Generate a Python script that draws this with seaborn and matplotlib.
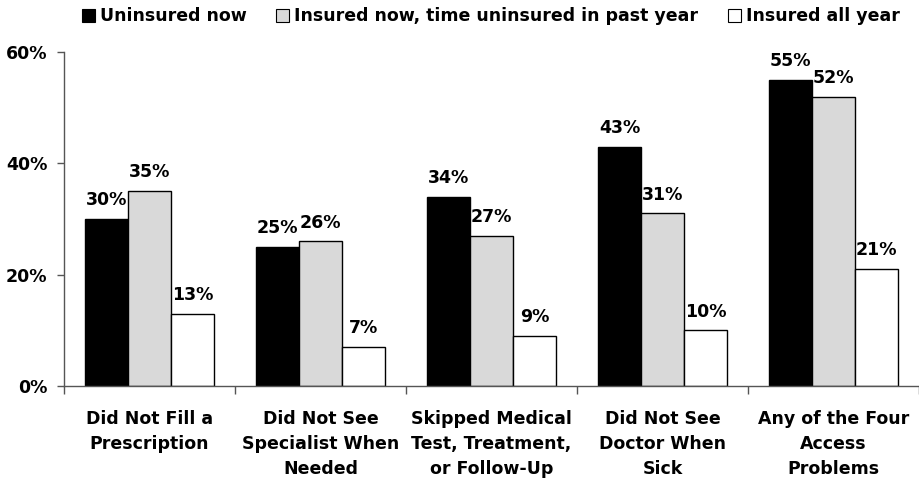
import matplotlib
matplotlib.use("Agg")
import matplotlib.pyplot as plt
import seaborn as sns
import pandas as pd
from matplotlib.patches import Patch
from matplotlib.ticker import FixedLocator, FuncFormatter

categories = [
    "Did Not Fill a\nPrescription",
    "Did Not See\nSpecialist When\nNeeded",
    "Skipped Medical\nTest, Treatment,\nor Follow-Up",
    "Did Not See\nDoctor When\nSick",
    "Any of the Four\nAccess\nProblems",
]
series_names = ["Uninsured now", "Insured now, time uninsured in past year", "Insured all year"]
uninsured_now = [30, 25, 34, 43, 55]
insured_gap = [35, 26, 27, 31, 52]
insured_all_year = [13, 7, 9, 10, 21]
colors = ["#000000", "#d9d9d9", "#ffffff"]

rows = []
for name, vals in zip(series_names, [uninsured_now, insured_gap, insured_all_year]):
    for c, v in zip(categories, vals):
        rows.append({"cat": c, "series": name, "value": v})
df = pd.DataFrame(rows)

sns.set_theme(style="white")
FONT = ["DejaVu Sans"]
W = "bold"
FS = 12.5
plt.rcParams["font.family"] = FONT
plt.rcParams["font.weight"] = W
plt.rcParams["text.color"] = "black"
plt.rcParams["xtick.color"] = "black"
plt.rcParams["ytick.color"] = "black"
plt.rcParams["axes.labelcolor"] = "black"

fig = plt.figure(figsize=(9.19, 4.84), dpi=100)
ax = fig.add_axes([64 / 919, (484 - 386) / 484, 855 / 919, 334 / 484])

sns.barplot(data=df, x="cat", y="value", hue="series", palette=colors,
            width=0.754, edgecolor="black", linewidth=1.0, ax=ax,
            legend=False, saturation=1)

for cont in ax.containers:
    ax.bar_label(cont, labels=[f"{int(v)}%" for v in cont.datavalues],
                 padding=7, fontsize=FS, fontweight=W, color="black")

ax.set_ylim(0, 60)
ax.set_xlim(-0.5, 4.5)
ax.set_yticks([0, 20, 40, 60])
ax.yaxis.set_major_formatter(FuncFormatter(lambda v, p: f"{int(v)}%"))
ax.set_xlabel("")
ax.set_ylabel("")

for s in ["top", "right"]:
    ax.spines[s].set_visible(False)
for s in ["left", "bottom"]:
    ax.spines[s].set_color("#555555")
    ax.spines[s].set_linewidth(1.0)

ax.tick_params(axis="y", which="major", left=True, length=5, width=1, color="#555555",
               labelcolor="black", labelsize=FS, pad=7)
ax.tick_params(axis="x", which="major", bottom=False, length=0, labelsize=FS,
               labelcolor="black", pad=17.5)
ax.xaxis.set_minor_locator(FixedLocator([-0.5, 0.5, 1.5, 2.5, 3.5, 4.5]))
ax.tick_params(axis="x", which="minor", bottom=True, length=6, width=1, color="#555555")
for lbl in ax.get_xticklabels():
    lbl.set_linespacing(1.5)
    lbl.set_fontweight(W)
for lbl in ax.get_yticklabels():
    lbl.set_fontweight(W)

handles = [Patch(facecolor=c, edgecolor="black", linewidth=0.8) for c in colors]
fig.legend(handles, series_names, loc="upper center", bbox_to_anchor=(0.534, 1.017),
           ncol=3, frameon=False, handlelength=0.75, handleheight=0.75,
           handletextpad=0.3, columnspacing=1.7, prop={"weight": W, "size": FS},
           labelcolor="black")

fig.savefig("out.png", dpi=100)
